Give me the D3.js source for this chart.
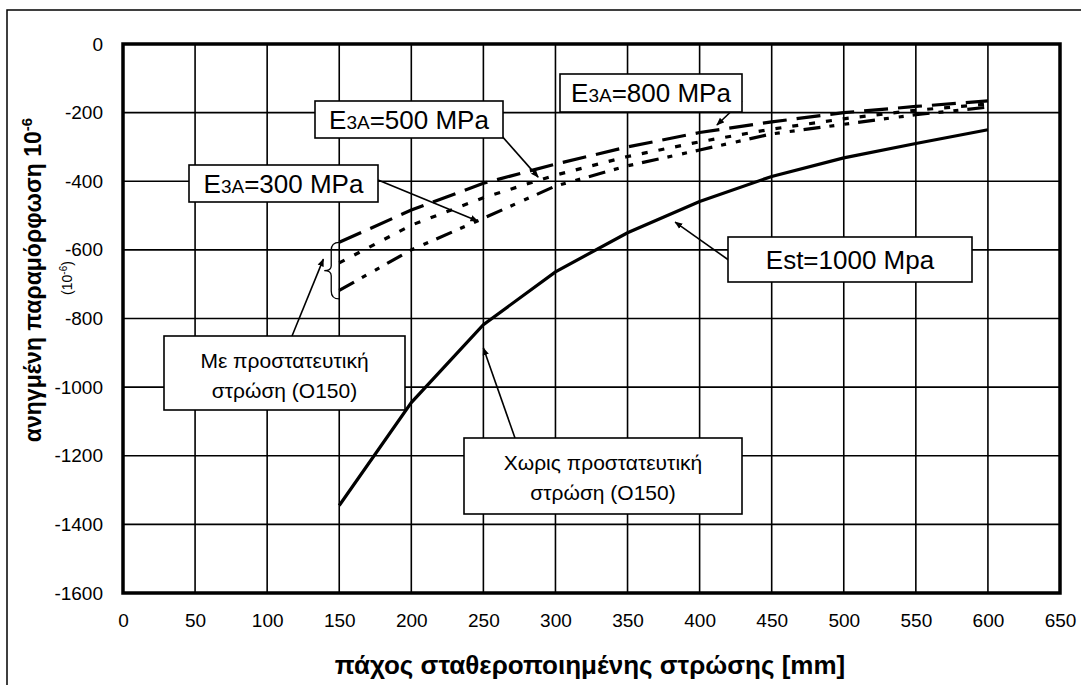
<!DOCTYPE html>
<html>
<head>
<meta charset="utf-8">
<script src="https://cdn.jsdelivr.net/npm/d3@7"></script>
<style>
  body { margin: 0; background: #fff; }
  svg { display: block; font-family: "Liberation Sans", Arial, sans-serif; }
</style>
</head>
<body>
<svg id="chart" width="1081" height="685"></svg>
<script>
"use strict";

// data
var xTickValues = [0, 50, 100, 150, 200, 250, 300, 350, 400, 450, 500, 550, 600, 650];
var yTickValues = [0, -200, -400, -600, -800, -1000, -1200, -1400, -1600];
var thickness = [150, 200, 250, 300, 350, 400, 450, 500, 550, 600];
var strainNoLayer = [-1345, -1045, -818, -664, -550, -459, -386, -332, -290, -250];
var strainE800 = [-578, -484, -406, -350, -300, -258, -227, -200, -182, -166];
var strainE500 = [-638, -528, -448, -382, -328, -285, -248, -218, -193, -175];
var strainE300 = [-718, -600, -508, -414, -355, -309, -262, -234, -206, -184];

var svg = d3.select('#chart');

// outer frame (runs off the right and bottom of the picture)
svg.append('rect')
    .attr('x', 7).attr('y', 10)
    .attr('width', 1200).attr('height', 800)
    .attr('fill', 'none')
    .attr('stroke', '#000')
    .attr('stroke-width', 1.5);

var pLeft = 123, pRight = 1060, pTop = 44, pBottom = 593;

var x = d3.scaleLinear().domain([0, 650]).range([pLeft, pRight]);
var y = d3.scaleLinear().domain([-1600, 0]).range([pBottom, pTop]);

// grid
var grid = svg.append('g');
grid.selectAll('.vg')
    .data(xTickValues)
    .enter().append('line')
    .attr('x1', d => x(d)).attr('x2', d => x(d))
    .attr('y1', pTop).attr('y2', pBottom)
    .attr('stroke', '#000').attr('stroke-width', 1.6);
grid.selectAll('.hg')
    .data(yTickValues)
    .enter().append('line')
    .attr('x1', pLeft).attr('x2', pRight)
    .attr('y1', d => y(d)).attr('y2', d => y(d))
    .attr('stroke', '#000').attr('stroke-width', 1.6);

// axes labels via d3 axes (no tick marks, no domain)
var plain = d => String(d);
var xAxis = svg.append('g')
    .attr('transform', `translate(0,${pBottom})`)
    .call(d3.axisBottom(x).tickValues(xTickValues).tickFormat(plain).tickSize(0).tickPadding(21));
var yAxis = svg.append('g')
    .attr('transform', `translate(${pLeft},0)`)
    .call(d3.axisLeft(y).tickValues(yTickValues).tickFormat(plain).tickSize(0).tickPadding(20));
[xAxis, yAxis].forEach(a => {
    a.select('.domain').remove();
    a.selectAll('text')
        .attr('font-family', '"Liberation Sans", Arial, sans-serif')
        .attr('font-size', 19)
        .attr('fill', '#000');
});

// plot border
svg.append('rect')
    .attr('x', pLeft).attr('y', pTop)
    .attr('width', pRight - pLeft).attr('height', pBottom - pTop)
    .attr('fill', 'none')
    .attr('stroke', '#000')
    .attr('stroke-width', 3.5);

// series
var series = [
    { values: strainNoLayer, dash: null },
    { values: strainE800, dash: '24,10' },
    { values: strainE500, dash: '6,11' },
    { values: strainE300, dash: '17,9,5,10,5,9' }
];
var line = d3.line()
    .x((d, i) => x(thickness[i]))
    .y(d => y(d));
svg.append('g').selectAll('path')
    .data(series)
    .enter().append('path')
    .attr('d', d => line(d.values))
    .attr('fill', 'none')
    .attr('stroke', '#000')
    .attr('stroke-width', 3.2)
    .attr('stroke-dasharray', d => d.dash);

// brace grouping the protected-layer curves
var bx = x(150);
var bt = y(-578), bb = y(-743), bm = (bt + bb) / 2;
svg.append('path')
    .attr('d', `M${bx},${bt} Q${bx - 8},${bt} ${bx - 8},${bt + 8} L${bx - 8},${bm - 5} Q${bx - 8},${bm} ${bx - 15},${bm} Q${bx - 8},${bm} ${bx - 8},${bm + 5} L${bx - 8},${bb - 8} Q${bx - 8},${bb} ${bx},${bb}`)
    .attr('fill', 'none')
    .attr('stroke', '#000')
    .attr('stroke-width', 1.3);

// annotations
var defs = svg.append('defs');
defs.append('marker')
    .attr('id', 'arrow')
    .attr('viewBox', '0 0 10 10')
    .attr('refX', 9).attr('refY', 5)
    .attr('markerWidth', 5).attr('markerHeight', 5)
    .attr('orient', 'auto')
    .attr('markerUnits', 'strokeWidth')
    .append('path')
    .attr('d', 'M0,1 L10,5 L0,9 Z')
    .attr('fill', '#000');

var notes = [
    { box: [560, 74, 182, 38], parts: ['E', '3A', '=800 MPa'], from: [742, 101], to: [412, -236] },
    { box: [315, 101, 188, 37], parts: ['E', '3A', '=500 MPa'], from: [493, 126], to: [288, -388] },
    { box: [189, 165, 189, 37], parts: ['E', '3A', '=300 MPa'], from: [378, 180], to: [246, -516] },
    { box: [728, 237, 244, 45], lines: ['Est=1000 Mpa'], size: 26, from: [730, 261], to: [383, -519] },
    { box: [164, 336, 241, 74], lines: ['Με προστατευτική', 'στρώση (Ο150)'], size: 21, from: [292, 336], to: [139, -627] },
    { box: [464, 438, 278, 76], lines: ['Χωρις προστατευτική', 'στρώση (Ο150)'], size: 21, from: [515, 438], to: [250, -886] }
];

notes.forEach(n => {
    svg.append('line')
        .attr('x1', n.from[0]).attr('y1', n.from[1])
        .attr('x2', x(n.to[0])).attr('y2', y(n.to[1]))
        .attr('stroke', '#000')
        .attr('stroke-width', 1.6)
        .attr('marker-end', 'url(#arrow)');
});

notes.forEach(n => {
    var b = n.box;
    var g = svg.append('g');
    g.append('rect')
        .attr('x', b[0]).attr('y', b[1])
        .attr('width', b[2]).attr('height', b[3])
        .attr('fill', '#fff')
        .attr('stroke', '#000')
        .attr('stroke-width', 1.6);
    var cx = b[0] + b[2] / 2;
    if (n.parts) {
        var t = g.append('text')
            .attr('x', cx)
            .attr('y', b[1] + b[3] / 2 + 9)
            .attr('text-anchor', 'middle')
            .attr('font-size', 26);
        t.append('tspan').text(n.parts[0]);
        t.append('tspan').attr('font-size', 19).text(n.parts[1]);
        t.append('tspan').text(n.parts[2]);
    } else if (n.lines.length === 1) {
        g.append('text')
            .attr('x', cx)
            .attr('y', b[1] + b[3] / 2 + 9)
            .attr('text-anchor', 'middle')
            .attr('font-size', n.size)
            .text(n.lines[0]);
    } else {
        n.lines.forEach((s, i) => {
            g.append('text')
                .attr('x', cx)
                .attr('y', b[1] + 32 + i * 30)
                .attr('text-anchor', 'middle')
                .attr('font-size', n.size)
                .text(s);
        });
    }
});

// axis titles
svg.append('text')
    .attr('x', 590).attr('y', 674)
    .attr('text-anchor', 'middle')
    .attr('font-size', 26)
    .attr('font-weight', 'bold')
    .text('πάχος σταθεροποιημένης στρώσης [mm]');

var yt = svg.append('text')
    .attr('transform', 'translate(41,280) rotate(-90)')
    .attr('text-anchor', 'middle')
    .attr('font-size', 23)
    .attr('font-weight', 'bold');
yt.append('tspan').text('ανηγμένη παραμόρφωση 10');
yt.append('tspan').attr('dy', -9).attr('font-size', 15).text('-6');

var ys = svg.append('text')
    .attr('transform', 'translate(72,278) rotate(-90)')
    .attr('text-anchor', 'middle')
    .attr('font-size', 14);
ys.append('tspan').text('(10');
ys.append('tspan').attr('dy', -5).attr('font-size', 10).text('-6');
ys.append('tspan').attr('dy', 5).text(')');
</script>
</body>
</html>
